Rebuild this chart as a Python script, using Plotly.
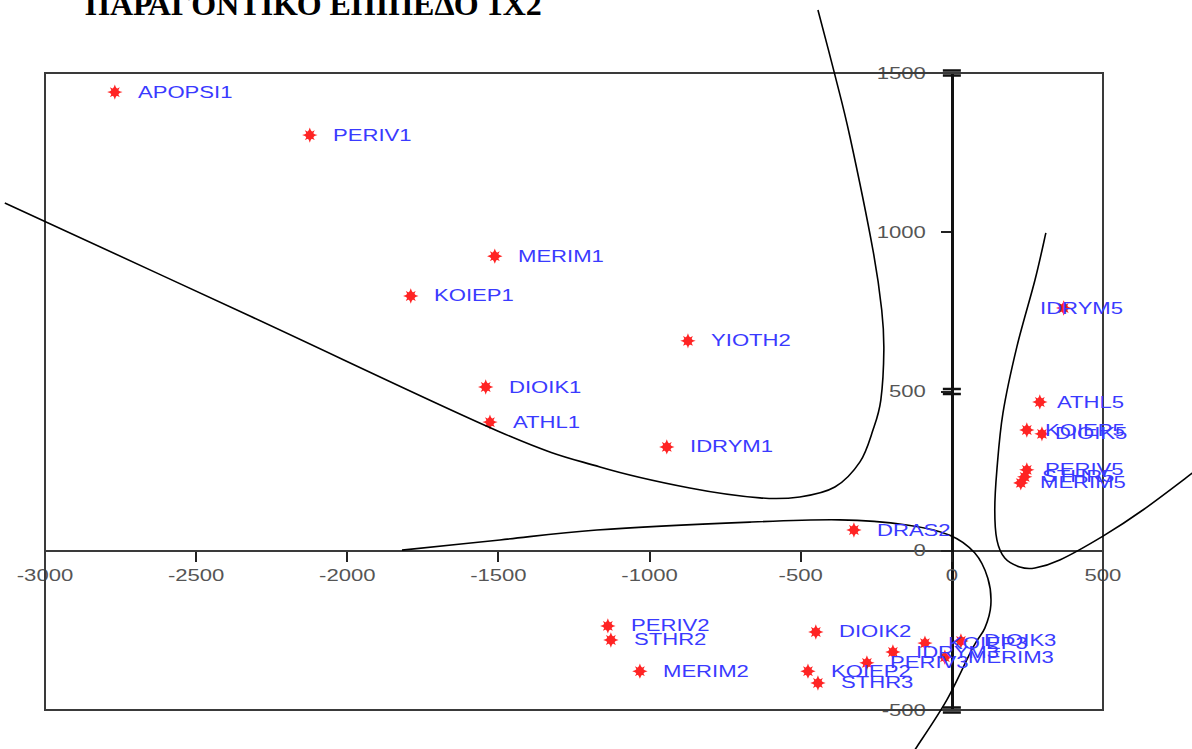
import plotly.graph_objects as go

# Category points on the factor plane (dimension 1 x dimension 2)
labels = ["APOPSI1", "PERIV1", "MERIM1", "KOIEP1", "YIOTH2", "DIOIK1", "ATHL1", "IDRYM1", "DRAS2",
          "IDRYM5", "ATHL5", "KOIEP5", "DIOIK5", "PERIV5", "STHR5", "MERIM5",
          "PERIV2", "STHR2", "MERIM2", "DIOIK2", "KOIEP2", "STHR3",
          "IDRYM3", "PERIV3", "KOIEP3", "DIOIK3", "MERIM3"]
dim1 = [-2769, -2124, -1512, -1790, -873, -1542, -1528, -943, -324,
        370, 291, 248, 298, 248, 241, 228,
        -1138, -1128, -1032, -450, -476, -443,
        -195, -281, -89, 30, -23]
dim2 = [1440, 1305, 925, 800, 659, 514, 404, 326, 65,
        762, 467, 379, 367, 254, 232, 213,
        -236, -280, -378, -255, -378, -415,
        -318, -352, -290, -283, -334]

x_ticks = [-3000, -2500, -2000, -1500, -1000, -500, 0, 500]
y_ticks = [-500, 0, 500, 1000, 1500]
y_double_ticks = [-500, 500, 1500]
XMIN, XMAX = -3000, 500
YMIN, YMAX = -500, 1500

title_text = "ΠΑΡΑΓΟΝΤΙΚΟ ΕΠΙΠΕΔΟ 1Χ2"

# Hand-drawn grouping curves, in axis units (they run past the frame)
curve_upper = [(-443, 1698), (-387, 1494), (-337, 1299), (-261, 944), (-232, 756), (-225, 630),
               (-235, 473), (-261, 379), (-304, 279), (-387, 200), (-503, 169), (-635, 166),
               (-867, 197), (-1164, 263), (-1495, 373), (-2322, 737), (-3133, 1092)]
curve_lower = [(-1819, 2), (-1495, 34), (-1174, 65), (-668, 90), (-370, 97), (-149, 81),
               (-7, 49), (76, -7), (119, -86), (129, -170), (109, -243), (69, -305),
               (-17, -469), (-116, -616), (-139, -648)]
curve_right = [(311, 998), (275, 850), (215, 640), (169, 432), (149, 254), (142, 128),
               (149, 34), (175, -23), (225, -51), (275, -54), (357, -29), (500, 46),
               (632, 128), (804, 250)]

# Label placement tweaks (pixels to the right of the marker)
LABEL_DX = 21
label_dx = {"IDRYM5": -26, "ATHL5": 15, "KOIEP5": 16, "DIOIK5": 11,
            "PERIV5": 16, "STHR5": 15, "MERIM5": 17}


def to_paper(x, y):
    return (x - XMIN) / (XMAX - XMIN), (y - YMIN) / (YMAX - YMIN)


def smooth_path(points):
    p = [to_paper(x, y) for x, y in points]
    d = "M{:.5f},{:.5f}".format(*p[0])
    n = len(p)
    for i in range(n - 1):
        p0 = p[i - 1] if i > 0 else p[i]
        p1, p2 = p[i], p[i + 1]
        p3 = p[i + 2] if i + 2 < n else p[i + 1]
        c1 = (p1[0] + (p2[0] - p0[0]) / 6, p1[1] + (p2[1] - p0[1]) / 6)
        c2 = (p2[0] - (p3[0] - p1[0]) / 6, p2[1] - (p3[1] - p1[1]) / 6)
        d += " C{:.5f},{:.5f} {:.5f},{:.5f} {:.5f},{:.5f}".format(*c1, *c2, *p2)
    return d


fig = go.Figure()

# Red burst markers: two overlaid four-point stars make an eight-point star
for sym, size in (("star-diamond", 11), ("star-square", 9)):
    fig.add_trace(go.Scatter(
        x=dim1, y=dim2, mode="markers",
        marker=dict(symbol=sym, size=size, color="#ff2424", line=dict(width=0)),
        cliponaxis=False, hoverinfo="skip", showlegend=False,
    ))

annotations = [dict(
    text="<b>" + title_text + "</b>", xref="paper", yref="paper",
    x=(83 - 45) / 1058, y=1.077, xanchor="left", yanchor="bottom", showarrow=False,
    font=dict(family="Liberation Serif", size=32, color="#000000"),
)]
for name, xv, yv in zip(labels, dim1, dim2):
    annotations.append(dict(
        text=name, x=xv, y=yv, xref="x", yref="y", showarrow=False,
        xanchor="left", yanchor="middle", xshift=label_dx.get(name, LABEL_DX),
        font=dict(family="Liberation Sans", size=16, color="#3a3aff"),
    ))

shapes = [dict(type="rect", xref="paper", yref="paper", x0=0, y0=0, x1=1, y1=1,
               line=dict(color="#3a3a3a", width=2), layer="above")]
for c in (curve_upper, curve_lower, curve_right):
    shapes.append(dict(type="path", xref="paper", yref="paper", path=smooth_path(c),
                       line=dict(color="#000000", width=1.6), layer="above"))

# "=" style marks on the vertical axis at selected ticks
x_axis_pos = to_paper(0, 0)[0]
for yv in y_double_ticks:
    shapes.append(dict(type="path", xref="paper", yref="paper",
                       xsizemode="pixel", ysizemode="pixel",
                       xanchor=x_axis_pos, yanchor=to_paper(0, yv)[1],
                       path="M-9,2.5 L9,2.5 M-9,-2.5 L9,-2.5",
                       line=dict(color="#111111", width=2.5), layer="above"))

tick_font = dict(family="Liberation Sans", size=16, color="#555555")
fig.update_layout(
    width=1192, height=749,
    margin=dict(l=45, r=89, t=73, b=39, pad=0),
    paper_bgcolor="white", plot_bgcolor="rgba(0,0,0,0)",
    showlegend=False, hovermode=False,
    annotations=annotations, shapes=shapes,
    xaxis=dict(range=[XMIN, XMAX], tickvals=x_ticks, ticktext=[str(v) for v in x_ticks],
               anchor="free", position=to_paper(0, 0)[1],
               showline=True, linecolor="#3a3a3a", linewidth=1.5,
               ticks="outside", ticklen=10, tickwidth=1.5, tickcolor="#222222",
               showgrid=False, zeroline=False, tickfont=tick_font, ticklabelstandoff=0),
    yaxis=dict(range=[YMIN, YMAX], tickvals=y_ticks, ticktext=[str(v) for v in y_ticks],
               anchor="free", position=x_axis_pos,
               showline=True, linecolor="#111111", linewidth=2.5,
               ticks="outside", ticklen=10, tickwidth=1.5, tickcolor="#222222",
               showgrid=False, zeroline=False, tickfont=tick_font, ticklabelstandoff=12),
)

# Widen the chart lettering horizontally, keeping each label's anchor edge fixed
stretch_js = """
var gd = document.getElementById('{plot_id}');
var SX = 1.38;
function stretch(sel, mode) {
  gd.querySelectorAll(sel).forEach(function (t) {
    var b = t.getBBox();
    var ox = mode === 'left' ? b.x : (mode === 'right' ? b.x + b.width : b.x + b.width / 2);
    var prev = t.getAttribute('transform') || '';
    t.setAttribute('transform', prev + ' translate(' + ox + ',0) scale(' + SX + ',1) translate(' + (-ox) + ',0)');
  });
}
stretch('.xtick text', 'center');
stretch('.ytick text', 'right');
stretch('.annotation:not([data-index="0"]) text', 'left');
"""

fig.write_html("out.html", post_script=stretch_js)
